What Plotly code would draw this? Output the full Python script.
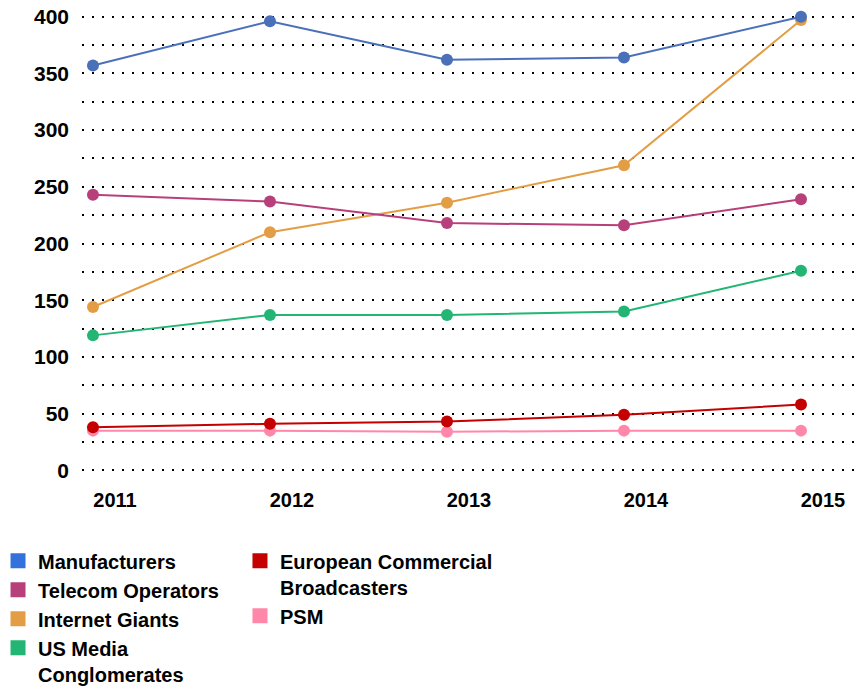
import plotly.graph_objects as go

years = [2011, 2012, 2013, 2014, 2015]

manufacturers = [357, 396, 362, 364, 400]
telecom_operators = [243, 237, 218, 216, 239]
internet_giants = [144, 210, 236, 269, 397]
us_media = [119, 137, 137, 140, 176]
european_commercial = [38, 41, 43, 49, 58]
psm = [35, 35, 34, 35, 35]

series_names = ["Manufacturers", "Telecom Operators", "Internet Giants",
                "US Media<br>Conglomerates", "European Commercial<br>Broadcasters", "PSM"]
series_values = [manufacturers, telecom_operators, internet_giants,
                 us_media, european_commercial, psm]
line_colors = ["#4A70BA", "#B8407A", "#E39E45", "#22B573", "#C40000", "#FF88AA"]
legend_colors = ["#3372DC", "#B8407A", "#E39E45", "#22B573", "#C40000", "#FF88AA"]
legend_groups = ["legend", "legend", "legend", "legend", "legend2", "legend2"]

FONT = "Liberation Sans, Arial, Helvetica, sans-serif"

fig = go.Figure()

# data traces: draw bottom series first so upper-listed series sit on top
for i in reversed(range(len(series_names))):
    fig.add_trace(go.Scatter(
        x=years, y=series_values[i], mode="lines+markers",
        line=dict(color=line_colors[i], width=2),
        marker=dict(color=line_colors[i], size=12),
        cliponaxis=False, showlegend=False, hoverinfo="x+y",
        name=series_names[i].replace("<br>", " "),
    ))

# legend entries (square swatches)
for i in range(len(series_names)):
    fig.add_trace(go.Scatter(
        x=[None], y=[None], mode="markers",
        marker=dict(color=legend_colors[i], size=15, symbol="square"),
        name=series_names[i], legend=legend_groups[i], showlegend=True,
    ))

grid_style = dict(showgrid=True, gridcolor="#000000", gridwidth=2, griddash="2px,8px")
legend_font = dict(family=FONT, size=20, color="#000000", weight="bold")

fig.update_layout(
    width=861, height=686,
    margin=dict(l=82, r=0, t=11, b=210, autoexpand=False),
    paper_bgcolor="white", plot_bgcolor="white",
    font=dict(family=FONT, size=20, color="#000000", weight="bold"),
    xaxis=dict(
        range=[2010.938, 2015.339], tickvals=years, ticktext=[str(y) for y in years],
        showgrid=False, zeroline=False, showline=False, ticks="", automargin=False,
        tickfont=dict(family=FONT, size=20, color="#000000", weight="bold"),
        ticklabelshift=22, ticklabelstandoff=10, ticklabeloverflow="allow",
    ),
    yaxis=dict(
        range=[-5, 405], tickvals=[0, 50, 100, 150, 200, 250, 300, 350, 400],
        zeroline=False, showline=False, ticks="", automargin=False,
        tickfont=dict(family=FONT, size=21, color="#000000", weight="bold"),
        ticklabelstandoff=12, ticklabeloverflow="allow",
        minor=dict(tickvals=[25, 75, 125, 175, 225, 275, 325, 375], **grid_style),
        **grid_style,
    ),
    legend=dict(
        x=-0.1078, y=-0.1405, xanchor="left", yanchor="top", orientation="v",
        bgcolor="rgba(0,0,0,0)", borderwidth=0, tracegroupgap=0, valign="top",
        font=legend_font,
    ),
    legend2=dict(
        x=0.2028, y=-0.1405, xanchor="left", yanchor="top", orientation="v",
        bgcolor="rgba(0,0,0,0)", borderwidth=0, tracegroupgap=0, valign="top",
        font=legend_font,
    ),
)

fig.write_html("out.html", config={"displayModeBar": False},
               post_script="document.body.style.margin='0';")
